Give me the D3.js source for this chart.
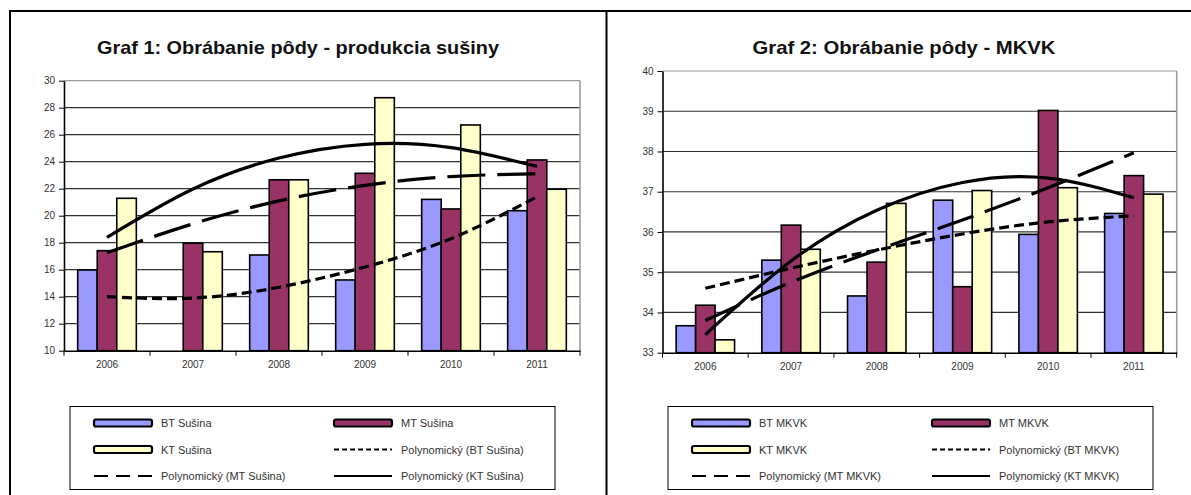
<!DOCTYPE html>
<html>
<head>
<meta charset="utf-8">
<script src="https://d3js.org/d3.v7.min.js"></script>
<style>
  body { margin: 0; background: #fff; }
  svg { display: block; font-family: "Liberation Sans", Arial, sans-serif; }
  .axis text { fill: #333; font-size: 10px; }
  .axis path, .axis line { stroke: #000; }
</style>
</head>
<body>
<div id="chart"></div>
<script>
// categories
var years = ["2006", "2007", "2008", "2009", "2010", "2011"];

// Graf 1 - produkcia susiny
var btSusina = [15.98, 10.0, 17.09, 15.24, 21.21, 20.37];
var mtSusina = [17.41, 17.96, 22.66, 23.14, 20.5, 24.13];
var ktSusina = [21.29, 17.33, 22.66, 28.74, 26.72, 21.96];
// trendlines read at each year
var btSusinaTrend = [14.0, 13.9, 14.7, 16.2, 18.3, 21.4];
var mtSusinaTrend = [17.26, 19.4, 21.1, 22.25, 22.9, 23.1];
var ktSusinaTrend = [18.4, 21.98, 24.27, 25.29, 25.04, 23.65];
var susinaTicks = [10, 12, 14, 16, 18, 20, 22, 24, 26, 28, 30];

// Graf 2 - MKVK
var btMkvk = [33.67, 35.3, 34.41, 36.79, 35.94, 36.46];
var mtMkvk = [34.18, 36.17, 35.25, 34.64, 39.02, 37.4];
var ktMkvk = [33.32, 35.57, 36.71, 37.03, 37.1, 36.94];
var btMkvkTrend = [34.6, 35.1, 35.55, 35.95, 36.25, 36.4];
var mtMkvkTrend = [33.8, 34.75, 35.55, 36.3, 37.1, 37.97];
var ktMkvkTrend = [33.45, 35.28, 36.54, 37.23, 37.34, 36.85];
var mkvkTicks = [33, 34, 35, 36, 37, 38, 39, 40];

var colors = {BT: "#9999ff", MT: "#993366", KT: "#ffffcc"};
var dashes = {BT: "10,5", MT: "38,12", KT: null};

var svg = d3.select("#chart").append("svg")
  .attr("width", 1191).attr("height", 495);

// page frame
svg.append("line").attr("x1", 9).attr("x2", 1191).attr("y1", 11).attr("y2", 11)
  .attr("stroke", "#000").attr("stroke-width", 2);
svg.append("line").attr("x1", 10).attr("x2", 10).attr("y1", 10).attr("y2", 495)
  .attr("stroke", "#000").attr("stroke-width", 2);
svg.append("line").attr("x1", 606.5).attr("x2", 606.5).attr("y1", 10).attr("y2", 495)
  .attr("stroke", "#000").attr("stroke-width", 2);

function drawChart(o) {
  var g = svg.append("g");

  g.append("text")
    .attr("x", o.titleX).attr("y", 54)
    .attr("text-anchor", "middle")
    .attr("textLength", o.titleW).attr("lengthAdjust", "spacingAndGlyphs")
    .style("font-size", "19px").style("font-weight", "bold").attr("fill", "#111")
    .text(o.title);

  var x = d3.scaleBand().domain(years).range([o.left, o.right]).padding(0);
  var x1 = d3.scaleBand().domain(["BT", "MT", "KT"]).range([0, x.bandwidth()])
    .paddingInner(0).paddingOuter(0.7);
  var y = d3.scaleLinear().domain(o.domain).range([o.bottom, o.top]);

  // gridlines
  g.selectAll(".grid").data(o.ticks.slice(1)).enter().append("line")
    .attr("x1", o.left).attr("x2", o.right)
    .attr("y1", function(d) { return y(d); }).attr("y2", function(d) { return y(d); })
    .attr("stroke", function(d, i) { return i == o.ticks.length - 2 ? "#999" : "#333"; })
    .attr("stroke-width", 1.2);
  g.append("line").attr("x1", o.right).attr("x2", o.right)
    .attr("y1", o.top).attr("y2", o.bottom)
    .attr("stroke", "#999").attr("stroke-width", 1.5);

  // bars
  var rows = years.map(function(yr, i) {
    return {year: yr, vals: [
      {k: "BT", v: o.bt[i]}, {k: "MT", v: o.mt[i]}, {k: "KT", v: o.kt[i]}]};
  });
  g.selectAll(".grp").data(rows).enter().append("g")
    .attr("transform", function(d) { return "translate(" + x(d.year) + ",0)"; })
    .selectAll("rect").data(function(d) { return d.vals; }).enter().append("rect")
    .attr("x", function(d) { return x1(d.k); })
    .attr("width", x1.bandwidth())
    .attr("y", function(d) { return y(d.v); })
    .attr("height", function(d) { return o.bottom - y(d.v); })
    .attr("fill", function(d) { return colors[d.k]; })
    .attr("stroke", "#000").attr("stroke-width", 1.6);

  // y axis
  g.append("g").attr("class", "axis")
    .attr("transform", "translate(" + o.left + ",0)")
    .call(d3.axisLeft(y).tickValues(o.ticks).tickFormat(d3.format("d"))
      .tickSize(5).tickSizeOuter(0).tickPadding(4))
    .call(function(a) { a.select(".domain").attr("stroke-width", 1.6); });

  // x axis: labels at centres, ticks at category boundaries
  var xa = g.append("g").attr("class", "axis")
    .attr("transform", "translate(0," + o.bottom + ")")
    .call(d3.axisBottom(x).tickSize(0).tickSizeOuter(0).tickPadding(10));
  xa.select(".domain").attr("stroke-width", 1.6);
  xa.selectAll(".bound").data(years.concat(["end"])).enter().append("line")
    .attr("x1", function(d, i) { return i < years.length ? x(d) : o.right; })
    .attr("x2", function(d, i) { return i < years.length ? x(d) : o.right; })
    .attr("y1", 0).attr("y2", 5).attr("stroke", "#000");

  // polynomial trendlines
  var line = d3.line()
    .x(function(d, i) { return x(years[i]) + x.bandwidth() / 2; })
    .y(function(d) { return y(d); })
    .curve(d3.curveNatural);
  [["BT", o.btTrend], ["MT", o.mtTrend], ["KT", o.ktTrend]].forEach(function(t) {
    g.append("path").datum(t[1])
      .attr("d", line)
      .attr("fill", "none").attr("stroke", "#000").attr("stroke-width", 3.2)
      .attr("stroke-dasharray", dashes[t[0]]);
  });

  // legend
  var lg = g.append("g");
  lg.append("rect").attr("x", o.legX).attr("y", 406.5).attr("width", o.legW).attr("height", 83)
    .attr("fill", "#fff").attr("stroke", "#000").attr("stroke-width", 1);
  var items = [
    {t: "BT " + o.name, bar: "BT"}, {t: "MT " + o.name, bar: "MT"},
    {t: "KT " + o.name, bar: "KT"}, {t: "Polynomický (BT " + o.name + ")", dash: "BT"},
    {t: "Polynomický (MT " + o.name + ")", dash: "MT"}, {t: "Polynomický (KT " + o.name + ")", dash: "KT"}
  ];
  var rowY = [423, 449.5, 476];
  items.forEach(function(it, i) {
    var cx = o.legX + (i % 2 == 0 ? 24 : 264);
    var cy = rowY[Math.floor(i / 2)];
    if (it.bar) {
      lg.append("rect").attr("x", cx).attr("y", cy - 3.5).attr("width", 58).attr("height", 7)
        .attr("rx", 2).attr("fill", colors[it.bar]).attr("stroke", "#000").attr("stroke-width", 2.2);
    } else {
      lg.append("line").attr("x1", cx).attr("x2", cx + 58).attr("y1", cy).attr("y2", cy)
        .attr("stroke", "#000").attr("stroke-width", 2.2)
        .attr("stroke-dasharray", it.dash == "BT" ? "5,3" : it.dash == "MT" ? "14,8" : null);
    }
    lg.append("text").attr("x", cx + 67).attr("y", cy + 4)
      .style("font-size", "11px").attr("fill", "#333").text(it.t);
  });
}

drawChart({
  title: "Graf 1: Obrábanie pôdy - produkcia sušiny", titleX: 298, titleW: 402, name: "Sušina",
  left: 64, right: 580, top: 80.7, bottom: 350.7, domain: [10, 30], ticks: susinaTicks,
  bt: btSusina, mt: mtSusina, kt: ktSusina,
  btTrend: btSusinaTrend, mtTrend: mtSusinaTrend, ktTrend: ktSusinaTrend,
  legX: 70, legW: 485
});

drawChart({
  title: "Graf 2: Obrábanie pôdy - MKVK", titleX: 904, titleW: 303, name: "MKVK",
  left: 662.5, right: 1176.7, top: 71, bottom: 352.7, domain: [33, 40], ticks: mkvkTicks,
  bt: btMkvk, mt: mtMkvk, kt: ktMkvk,
  btTrend: btMkvkTrend, mtTrend: mtMkvkTrend, ktTrend: ktMkvkTrend,
  legX: 668, legW: 485
});
</script>
</body>
</html>
